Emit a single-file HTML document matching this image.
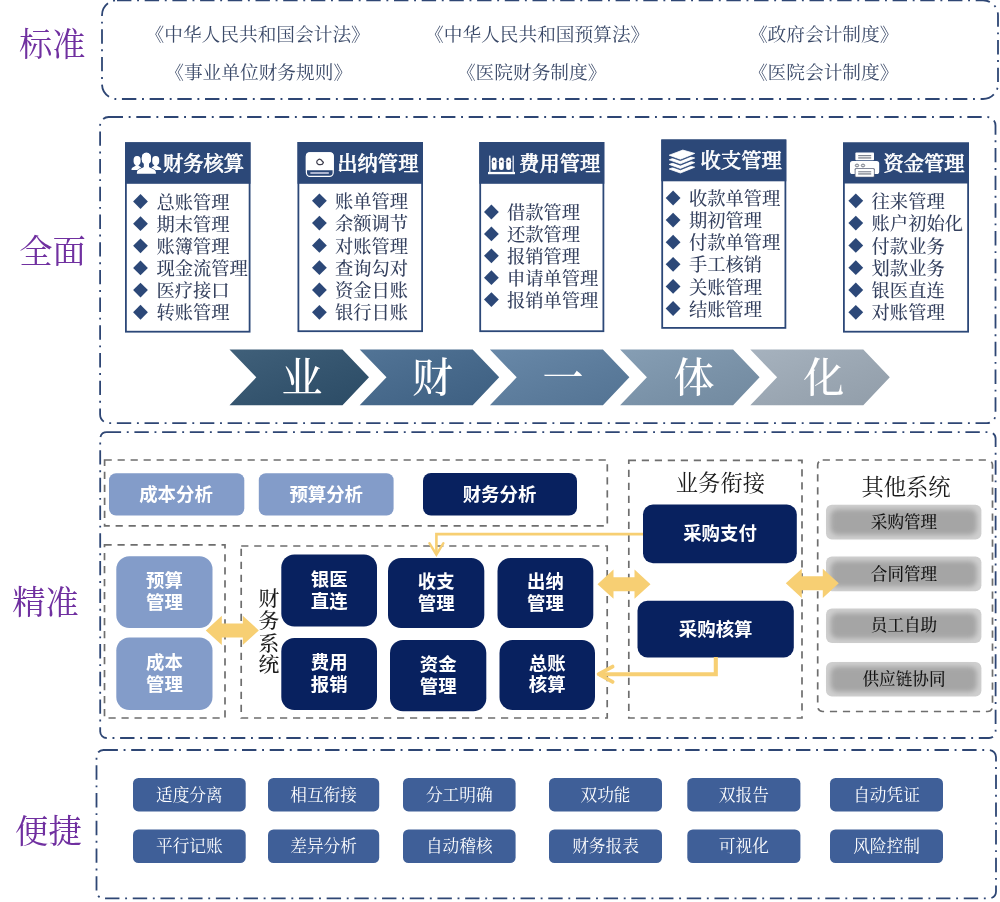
<!DOCTYPE html>
<html lang="zh-CN"><head><meta charset="utf-8"><title>业财一体化</title>
<style>html,body{margin:0;padding:0;background:#fff}body{width:1000px;height:902px;overflow:hidden;position:relative}svg{display:block;position:absolute;left:0;top:0}text{white-space:pre}</style>
</head><body>
<svg width="1000" height="902" viewBox="0 0 1000 902">
<g opacity="0.999">
<defs><filter id="soft" x="-10%" y="-20%" width="120%" height="140%"><feGaussianBlur stdDeviation="2.8"/></filter></defs>
<rect x="102" y="0.3" width="896" height="98.7" rx="15" ry="15" fill="none" stroke="#2e4674" stroke-width="1.8" stroke-dasharray="14.4 5.7 1.9 5.7" stroke-dashoffset="0"/>
<rect x="100.1" y="117" width="895.4" height="306.1" rx="8.5" ry="8.5" fill="none" stroke="#2e4674" stroke-width="1.8" stroke-dasharray="14.4 5.7 1.9 5.7" stroke-dashoffset="0"/>
<rect x="100.2" y="432.1" width="895.4" height="305.9" rx="6.5" ry="6.5" fill="none" stroke="#2e4674" stroke-width="1.8" stroke-dasharray="14.4 5.7 1.9 5.7" stroke-dashoffset="0"/>
<rect x="96.5" y="750" width="899.5" height="148.39999999999998" rx="7" ry="7" fill="none" stroke="#2e4674" stroke-width="1.8" stroke-dasharray="14.4 5.7 1.9 5.7" stroke-dashoffset="0"/>
<text x="52.30" y="56.32" font-size="33.3" fill="#7030a0" font-family='"Liberation Serif","Noto Serif CJK SC",serif' font-weight="400" text-anchor="middle">标准</text>
<text x="52.60" y="262.82" font-size="33.3" fill="#7030a0" font-family='"Liberation Serif","Noto Serif CJK SC",serif' font-weight="400" text-anchor="middle">全面</text>
<text x="45.50" y="613.52" font-size="33.3" fill="#7030a0" font-family='"Liberation Serif","Noto Serif CJK SC",serif' font-weight="400" text-anchor="middle">精准</text>
<text x="48.40" y="842.82" font-size="33.3" fill="#7030a0" font-family='"Liberation Serif","Noto Serif CJK SC",serif' font-weight="400" text-anchor="middle">便捷</text>
<text x="257.70" y="40.64" font-size="18.7" fill="#3a4968" font-family='"Liberation Serif","Noto Serif CJK SC",serif' font-weight="400" text-anchor="middle">《中华人民共和国会计法》</text>
<text x="258.70" y="79.14" font-size="18.7" fill="#3a4968" font-family='"Liberation Serif","Noto Serif CJK SC",serif' font-weight="400" text-anchor="middle">《事业单位财务规则》</text>
<text x="537.20" y="40.64" font-size="18.7" fill="#3a4968" font-family='"Liberation Serif","Noto Serif CJK SC",serif' font-weight="400" text-anchor="middle">《中华人民共和国预算法》</text>
<text x="531.70" y="79.14" font-size="18.7" fill="#3a4968" font-family='"Liberation Serif","Noto Serif CJK SC",serif' font-weight="400" text-anchor="middle">《医院财务制度》</text>
<text x="823.70" y="40.64" font-size="18.7" fill="#3a4968" font-family='"Liberation Serif","Noto Serif CJK SC",serif' font-weight="400" text-anchor="middle">《政府会计制度》</text>
<text x="823.70" y="79.14" font-size="18.7" fill="#3a4968" font-family='"Liberation Serif","Noto Serif CJK SC",serif' font-weight="400" text-anchor="middle">《医院会计制度》</text>
<rect x="125.9" y="143.20000000000002" width="123.7" height="188.5" fill="#fff" stroke="#2c4878" stroke-width="1.8"/>
<rect x="125" y="142.3" width="125.5" height="41.5" fill="#2c4878"/>
<text x="162.90" y="170.81" font-size="20.3" fill="#fff" font-family='"Liberation Serif","Noto Serif CJK SC",serif' font-weight="500" text-anchor="start" stroke="#fff" stroke-width="0.6" stroke-linejoin="round">财务核算</text>
<path d="M133.1,201.5 L140.5,194.1 L147.9,201.5 L140.5,208.9Z" fill="#2c4878"/>
<text x="156.40" y="208.60" font-size="18.3" fill="#34405e" font-family='"Liberation Serif","Noto Serif CJK SC",serif' font-weight="500" text-anchor="start">总账管理</text>
<path d="M133.1,223.65 L140.5,216.25 L147.9,223.65 L140.5,231.05Z" fill="#2c4878"/>
<text x="156.40" y="230.75" font-size="18.3" fill="#34405e" font-family='"Liberation Serif","Noto Serif CJK SC",serif' font-weight="500" text-anchor="start">期末管理</text>
<path d="M133.1,245.8 L140.5,238.4 L147.9,245.8 L140.5,253.20000000000002Z" fill="#2c4878"/>
<text x="156.40" y="252.90" font-size="18.3" fill="#34405e" font-family='"Liberation Serif","Noto Serif CJK SC",serif' font-weight="500" text-anchor="start">账簿管理</text>
<path d="M133.1,267.95 L140.5,260.55 L147.9,267.95 L140.5,275.34999999999997Z" fill="#2c4878"/>
<text x="156.40" y="275.05" font-size="18.3" fill="#34405e" font-family='"Liberation Serif","Noto Serif CJK SC",serif' font-weight="500" text-anchor="start">现金流管理</text>
<path d="M133.1,290.1 L140.5,282.70000000000005 L147.9,290.1 L140.5,297.5Z" fill="#2c4878"/>
<text x="156.40" y="297.20" font-size="18.3" fill="#34405e" font-family='"Liberation Serif","Noto Serif CJK SC",serif' font-weight="500" text-anchor="start">医疗接口</text>
<path d="M133.1,312.25 L140.5,304.85 L147.9,312.25 L140.5,319.65Z" fill="#2c4878"/>
<text x="156.40" y="319.35" font-size="18.3" fill="#34405e" font-family='"Liberation Serif","Noto Serif CJK SC",serif' font-weight="500" text-anchor="start">转账管理</text>
<rect x="298.4" y="142.9" width="123.7" height="188.3" fill="#fff" stroke="#2c4878" stroke-width="1.8"/>
<rect x="297.5" y="142" width="125.5" height="41.80000000000001" fill="#2c4878"/>
<text x="337.30" y="171.01" font-size="20.3" fill="#fff" font-family='"Liberation Serif","Noto Serif CJK SC",serif' font-weight="500" text-anchor="start" stroke="#fff" stroke-width="0.6" stroke-linejoin="round">出纳管理</text>
<path d="M312.0,200.8 L319.4,193.4 L326.79999999999995,200.8 L319.4,208.20000000000002Z" fill="#2c4878"/>
<text x="334.90" y="207.90" font-size="18.3" fill="#34405e" font-family='"Liberation Serif","Noto Serif CJK SC",serif' font-weight="500" text-anchor="start">账单管理</text>
<path d="M312.0,223.10000000000002 L319.4,215.70000000000002 L326.79999999999995,223.10000000000002 L319.4,230.50000000000003Z" fill="#2c4878"/>
<text x="334.90" y="230.20" font-size="18.3" fill="#34405e" font-family='"Liberation Serif","Noto Serif CJK SC",serif' font-weight="500" text-anchor="start">余额调节</text>
<path d="M312.0,245.4 L319.4,238.0 L326.79999999999995,245.4 L319.4,252.8Z" fill="#2c4878"/>
<text x="334.90" y="252.50" font-size="18.3" fill="#34405e" font-family='"Liberation Serif","Noto Serif CJK SC",serif' font-weight="500" text-anchor="start">对账管理</text>
<path d="M312.0,267.70000000000005 L319.4,260.30000000000007 L326.79999999999995,267.70000000000005 L319.4,275.1Z" fill="#2c4878"/>
<text x="334.90" y="274.80" font-size="18.3" fill="#34405e" font-family='"Liberation Serif","Noto Serif CJK SC",serif' font-weight="500" text-anchor="start">查询勾对</text>
<path d="M312.0,290.0 L319.4,282.6 L326.79999999999995,290.0 L319.4,297.4Z" fill="#2c4878"/>
<text x="334.90" y="297.10" font-size="18.3" fill="#34405e" font-family='"Liberation Serif","Noto Serif CJK SC",serif' font-weight="500" text-anchor="start">资金日账</text>
<path d="M312.0,312.3 L319.4,304.90000000000003 L326.79999999999995,312.3 L319.4,319.7Z" fill="#2c4878"/>
<text x="334.90" y="319.40" font-size="18.3" fill="#34405e" font-family='"Liberation Serif","Noto Serif CJK SC",serif' font-weight="500" text-anchor="start">银行日账</text>
<rect x="480.2" y="142.9" width="123.19999999999995" height="188.3" fill="#fff" stroke="#2c4878" stroke-width="1.8"/>
<rect x="479.3" y="142" width="124.99999999999994" height="41.80000000000001" fill="#2c4878"/>
<text x="519.10" y="171.01" font-size="20.3" fill="#fff" font-family='"Liberation Serif","Noto Serif CJK SC",serif' font-weight="500" text-anchor="start" stroke="#fff" stroke-width="0.6" stroke-linejoin="round">费用管理</text>
<path d="M484.0,212.0 L491.4,204.6 L498.79999999999995,212.0 L491.4,219.4Z" fill="#2c4878"/>
<text x="506.90" y="219.10" font-size="18.3" fill="#34405e" font-family='"Liberation Serif","Noto Serif CJK SC",serif' font-weight="500" text-anchor="start">借款管理</text>
<path d="M484.0,233.9 L491.4,226.5 L498.79999999999995,233.9 L491.4,241.3Z" fill="#2c4878"/>
<text x="506.90" y="241.00" font-size="18.3" fill="#34405e" font-family='"Liberation Serif","Noto Serif CJK SC",serif' font-weight="500" text-anchor="start">还款管理</text>
<path d="M484.0,255.8 L491.4,248.4 L498.79999999999995,255.8 L491.4,263.2Z" fill="#2c4878"/>
<text x="506.90" y="262.90" font-size="18.3" fill="#34405e" font-family='"Liberation Serif","Noto Serif CJK SC",serif' font-weight="500" text-anchor="start">报销管理</text>
<path d="M484.0,277.7 L491.4,270.3 L498.79999999999995,277.7 L491.4,285.09999999999997Z" fill="#2c4878"/>
<text x="506.90" y="284.80" font-size="18.3" fill="#34405e" font-family='"Liberation Serif","Noto Serif CJK SC",serif' font-weight="500" text-anchor="start">申请单管理</text>
<path d="M484.0,299.6 L491.4,292.20000000000005 L498.79999999999995,299.6 L491.4,307.0Z" fill="#2c4878"/>
<text x="506.90" y="306.70" font-size="18.3" fill="#34405e" font-family='"Liberation Serif","Noto Serif CJK SC",serif' font-weight="500" text-anchor="start">报销单管理</text>
<rect x="662.1999999999999" y="140.4" width="123.2" height="187.5" fill="#fff" stroke="#2c4878" stroke-width="1.8"/>
<rect x="661.3" y="139.5" width="125.0" height="41.80000000000001" fill="#2c4878"/>
<text x="700.60" y="167.91" font-size="20.3" fill="#fff" font-family='"Liberation Serif","Noto Serif CJK SC",serif' font-weight="500" text-anchor="start" stroke="#fff" stroke-width="0.6" stroke-linejoin="round">收支管理</text>
<path d="M665.7,198.0 L673.1,190.6 L680.5,198.0 L673.1,205.4Z" fill="#2c4878"/>
<text x="688.90" y="205.10" font-size="18.3" fill="#34405e" font-family='"Liberation Serif","Noto Serif CJK SC",serif' font-weight="500" text-anchor="start">收款单管理</text>
<path d="M665.7,220.1 L673.1,212.7 L680.5,220.1 L673.1,227.5Z" fill="#2c4878"/>
<text x="688.90" y="227.20" font-size="18.3" fill="#34405e" font-family='"Liberation Serif","Noto Serif CJK SC",serif' font-weight="500" text-anchor="start">期初管理</text>
<path d="M665.7,242.2 L673.1,234.79999999999998 L680.5,242.2 L673.1,249.6Z" fill="#2c4878"/>
<text x="688.90" y="249.30" font-size="18.3" fill="#34405e" font-family='"Liberation Serif","Noto Serif CJK SC",serif' font-weight="500" text-anchor="start">付款单管理</text>
<path d="M665.7,264.3 L673.1,256.90000000000003 L680.5,264.3 L673.1,271.7Z" fill="#2c4878"/>
<text x="688.90" y="271.40" font-size="18.3" fill="#34405e" font-family='"Liberation Serif","Noto Serif CJK SC",serif' font-weight="500" text-anchor="start">手工核销</text>
<path d="M665.7,286.4 L673.1,279.0 L680.5,286.4 L673.1,293.79999999999995Z" fill="#2c4878"/>
<text x="688.90" y="293.50" font-size="18.3" fill="#34405e" font-family='"Liberation Serif","Noto Serif CJK SC",serif' font-weight="500" text-anchor="start">关账管理</text>
<path d="M665.7,308.5 L673.1,301.1 L680.5,308.5 L673.1,315.9Z" fill="#2c4878"/>
<text x="688.90" y="315.60" font-size="18.3" fill="#34405e" font-family='"Liberation Serif","Noto Serif CJK SC",serif' font-weight="500" text-anchor="start">结账管理</text>
<rect x="843.9" y="143.4" width="124.2" height="188.3" fill="#fff" stroke="#2c4878" stroke-width="1.8"/>
<rect x="843" y="142.5" width="126" height="41.0" fill="#2c4878"/>
<text x="883.40" y="170.81" font-size="20.3" fill="#fff" font-family='"Liberation Serif","Noto Serif CJK SC",serif' font-weight="500" text-anchor="start" stroke="#fff" stroke-width="0.6" stroke-linejoin="round">资金管理</text>
<path d="M848.4,200.8 L855.8,193.4 L863.1999999999999,200.8 L855.8,208.20000000000002Z" fill="#2c4878"/>
<text x="871.60" y="207.90" font-size="18.3" fill="#34405e" font-family='"Liberation Serif","Noto Serif CJK SC",serif' font-weight="500" text-anchor="start">往来管理</text>
<path d="M848.4,223.10000000000002 L855.8,215.70000000000002 L863.1999999999999,223.10000000000002 L855.8,230.50000000000003Z" fill="#2c4878"/>
<text x="871.60" y="230.20" font-size="18.3" fill="#34405e" font-family='"Liberation Serif","Noto Serif CJK SC",serif' font-weight="500" text-anchor="start">账户初始化</text>
<path d="M848.4,245.4 L855.8,238.0 L863.1999999999999,245.4 L855.8,252.8Z" fill="#2c4878"/>
<text x="871.60" y="252.50" font-size="18.3" fill="#34405e" font-family='"Liberation Serif","Noto Serif CJK SC",serif' font-weight="500" text-anchor="start">付款业务</text>
<path d="M848.4,267.70000000000005 L855.8,260.30000000000007 L863.1999999999999,267.70000000000005 L855.8,275.1Z" fill="#2c4878"/>
<text x="871.60" y="274.80" font-size="18.3" fill="#34405e" font-family='"Liberation Serif","Noto Serif CJK SC",serif' font-weight="500" text-anchor="start">划款业务</text>
<path d="M848.4,290.0 L855.8,282.6 L863.1999999999999,290.0 L855.8,297.4Z" fill="#2c4878"/>
<text x="871.60" y="297.10" font-size="18.3" fill="#34405e" font-family='"Liberation Serif","Noto Serif CJK SC",serif' font-weight="500" text-anchor="start">银医直连</text>
<path d="M848.4,312.3 L855.8,304.90000000000003 L863.1999999999999,312.3 L855.8,319.7Z" fill="#2c4878"/>
<text x="871.60" y="319.40" font-size="18.3" fill="#34405e" font-family='"Liberation Serif","Noto Serif CJK SC",serif' font-weight="500" text-anchor="start">对账管理</text>
<g id="icons" fill="#fff">
<g transform="translate(131.5,152.3)"><rect x="2.1" y="3.6" width="7" height="9.2" rx="3.3" ry="3.9"/><rect x="4.1" y="10.5" width="3" height="4.2"/><path d="M-0.1,17.8 C-0.1,15.2 1.6,14.9 4.1,13.5 L7.1,13.5 C9,14.6 10.4,15 10.6,17.8Z"/><rect x="20.7" y="3.6" width="7" height="9.2" rx="3.3" ry="3.9"/><rect x="22.7" y="10.5" width="3" height="4.2"/><path d="M29.9,17.8 C29.9,15.2 28.2,14.9 25.7,13.5 L22.7,13.5 C20.8,14.6 19.4,15 19.2,17.8Z"/><g stroke="#2c4878" stroke-width="1.1" paint-order="stroke"><rect x="10.3" y="0.4" width="9.2" height="11.8" rx="4.4" ry="5"/><path d="M5.4,21.4 L5.4,19.9 C5.7,17 9,16.6 12.4,14.7 L12.4,10 L17.4,10 L17.4,14.7 C20.8,16.6 24.1,17 24.4,19.9 L24.4,21.4Z"/></g><rect x="10.3" y="0.4" width="9.2" height="11.8" rx="4.4" ry="5"/><rect x="12.4" y="9" width="5" height="7"/></g>
<g transform="translate(305.8,152.2)"><rect x="0.6" y="0.6" width="26.8" height="23.6" rx="3.6" fill="#2c4878" stroke="#fff" stroke-width="1.2"/><path d="M0,3.8 A3.8,3.8 0 0 1 3.8,0 H24.2 A3.8,3.8 0 0 1 28,3.8 V18.1 H0Z"/><rect x="4.4" y="19.7" width="18.8" height="2.1" rx="0.8" fill="#aeb6d0"/><path d="M12.2,12 C10.6,11 10.4,8.6 12.4,7.6 C13.6,6.6 15.2,7 15.8,8.2 C16.4,9 17.2,9.4 17.6,10.4 C17.2,11.8 15.8,12.6 14.4,12.5 C13.6,12.5 12.8,12.4 12.2,12 Z" fill="none" stroke="#3c3c4c" stroke-width="1.25"/></g>
<g transform="translate(488,156)"><rect x="0" y="15.9" width="27" height="2.3"/><rect x="1" y="-0.4" width="1.5" height="16.6" fill="#ccd4e4"/><rect x="24.5" y="-0.4" width="1.5" height="16.6" fill="#ccd4e4"/><rect x="2.5" y="5.3" width="22" height="0.7" fill="#aab4cc"/><rect x="3.8" y="1.6" width="4.8" height="12.4" rx="2.2"/><circle cx="6.199999999999999" cy="5.6" r="1" fill="#2b2b4a"/><rect x="11" y="1.6" width="4.8" height="12.4" rx="2.2"/><circle cx="13.4" cy="5.6" r="1" fill="#2b2b4a"/><rect x="18.2" y="1.6" width="4.8" height="12.4" rx="2.2"/><circle cx="20.599999999999998" cy="5.6" r="1" fill="#2b2b4a"/></g>
<g transform="translate(668.8,149.8)"><path d="M0.4,5.4 L14,0.3 L25.9,3.6 L11.6,9.4Z" transform="translate(0,13.8)" fill="#fff" stroke="#fff" stroke-width="0.8" stroke-linejoin="round"/><path d="M0.4,5.4 L14,0.3 L25.9,3.6 L11.6,9.4Z" transform="translate(0,10.6)" fill="#2c4878" stroke="#2c4878" stroke-width="0.8" stroke-linejoin="round"/><path d="M0.4,5.4 L14,0.3 L25.9,3.6 L11.6,9.4Z" transform="translate(0,9.2)" fill="#fff" stroke="#fff" stroke-width="0.8" stroke-linejoin="round"/><path d="M0.4,5.4 L14,0.3 L25.9,3.6 L11.6,9.4Z" transform="translate(0,6.0)" fill="#2c4878" stroke="#2c4878" stroke-width="0.8" stroke-linejoin="round"/><path d="M0.4,5.4 L14,0.3 L25.9,3.6 L11.6,9.4Z" transform="translate(0,4.6)" fill="#fff" stroke="#fff" stroke-width="0.8" stroke-linejoin="round"/><path d="M0.4,5.4 L14,0.3 L25.9,3.6 L11.6,9.4Z" transform="translate(0,1.4)" fill="#2c4878" stroke="#2c4878" stroke-width="0.8" stroke-linejoin="round"/><path d="M0.4,5.4 L14,0.3 L25.9,3.6 L11.6,9.4Z" transform="translate(0,0.0)" fill="#fff" stroke="#fff" stroke-width="0.8" stroke-linejoin="round"/></g>
<g transform="translate(850,152.6)"><rect x="5.4" y="0" width="18.6" height="7.6" rx="0.8"/><rect x="8.2" y="2.5" width="13" height="0.9" fill="#6f7684"/><rect x="8.2" y="4.1" width="13" height="2.1" fill="#a2a6ad"/><rect x="0" y="8.3" width="29.2" height="13.1" rx="2.6"/><ellipse cx="7" cy="12.9" rx="1.7" ry="1.4" fill="#e8eaee" stroke="#6a6f7a" stroke-width="0.9"/><ellipse cx="13" cy="12.9" rx="1.7" ry="1.4" fill="#e8eaee" stroke="#6a6f7a" stroke-width="0.9"/><rect x="4.7" y="15.6" width="20" height="9" rx="1" fill="#59627a"/><rect x="5.5" y="16.5" width="18.4" height="7.7" rx="0.8"/><rect x="8.2" y="18.7" width="13" height="0.9" fill="#6f7684"/><rect x="8.2" y="20.2" width="13" height="2" fill="#a2a6ad"/></g>
</g>
<defs><linearGradient id="cg0" x1="0" y1="0" x2="1" y2="1"><stop offset="0" stop-color="#40607a"/><stop offset="0.55" stop-color="#34546e"/><stop offset="1" stop-color="#2b4b65"/></linearGradient><linearGradient id="cg1" x1="0" y1="0" x2="1" y2="1"><stop offset="0" stop-color="#527496"/><stop offset="0.55" stop-color="#46688a"/><stop offset="1" stop-color="#3d5f81"/></linearGradient><linearGradient id="cg2" x1="0" y1="0" x2="1" y2="1"><stop offset="0" stop-color="#6888a8"/><stop offset="0.55" stop-color="#5c7c9c"/><stop offset="1" stop-color="#537393"/></linearGradient><linearGradient id="cg3" x1="0" y1="0" x2="1" y2="1"><stop offset="0" stop-color="#869eb4"/><stop offset="0.55" stop-color="#7a92a8"/><stop offset="1" stop-color="#71899f"/></linearGradient><linearGradient id="cg4" x1="0" y1="0" x2="1" y2="1"><stop offset="0" stop-color="#a6b2be"/><stop offset="0.55" stop-color="#9aa6b2"/><stop offset="1" stop-color="#919da9"/></linearGradient></defs>
<path d="M229.5,349.5 H342.5 L369.0,377.35 L342.5,405.2 H229.5 L256.3,377.35Z" fill="url(#cg0)"/>
<text x="302.00" y="392.16" font-size="41" fill="#fff" font-family='"Liberation Serif","Noto Serif CJK SC",serif' font-weight="500" text-anchor="middle">业</text>
<path d="M359.7,349.5 H472.7 L499.2,377.35 L472.7,405.2 H359.7 L386.5,377.35Z" fill="url(#cg1)"/>
<text x="432.50" y="392.16" font-size="41" fill="#fff" font-family='"Liberation Serif","Noto Serif CJK SC",serif' font-weight="500" text-anchor="middle">财</text>
<path d="M489.9,349.5 H602.9 L629.4,377.35 L602.9,405.2 H489.9 L516.6999999999999,377.35Z" fill="url(#cg2)"/>
<text x="563.00" y="392.16" font-size="41" fill="#fff" font-family='"Liberation Serif","Noto Serif CJK SC",serif' font-weight="500" text-anchor="middle">一</text>
<path d="M620.0999999999999,349.5 H733.0999999999999 L759.5999999999999,377.35 L733.0999999999999,405.2 H620.0999999999999 L646.8999999999999,377.35Z" fill="url(#cg3)"/>
<text x="694.00" y="392.16" font-size="41" fill="#fff" font-family='"Liberation Serif","Noto Serif CJK SC",serif' font-weight="500" text-anchor="middle">体</text>
<path d="M750.3,349.5 H863.3 L889.8,377.35 L863.3,405.2 H750.3 L777.0999999999999,377.35Z" fill="url(#cg4)"/>
<text x="823.80" y="392.16" font-size="41" fill="#fff" font-family='"Liberation Serif","Noto Serif CJK SC",serif' font-weight="500" text-anchor="middle">化</text>
<rect x="104.6" y="460" width="502.69999999999993" height="65.79999999999995" rx="0" ry="0" fill="none" stroke="#6e6e6e" stroke-width="1.7" stroke-dasharray="7.2 5.8"/>
<rect x="104.5" y="544.8" width="120.5" height="173.20000000000005" rx="0" ry="0" fill="none" stroke="#6e6e6e" stroke-width="1.7" stroke-dasharray="7.2 5.8"/>
<rect x="241.2" y="546" width="366.00000000000006" height="172" rx="0" ry="0" fill="none" stroke="#6e6e6e" stroke-width="1.7" stroke-dasharray="7.2 5.8"/>
<rect x="628.8" y="460.4" width="173.20000000000005" height="257.6" rx="0" ry="0" fill="none" stroke="#6e6e6e" stroke-width="1.7" stroke-dasharray="7.2 5.8"/>
<rect x="817.7" y="460" width="174.79999999999995" height="251.5" rx="5" ry="5" fill="none" stroke="#6e6e6e" stroke-width="1.7" stroke-dasharray="7.2 5.8"/>
<rect x="109" y="473.2" width="135.3" height="42.30000000000001" rx="7" ry="7" fill="#839cc9"/>
<text x="176.00" y="501.03" font-size="18.4" fill="#fff" font-family='"Liberation Sans","Noto Sans CJK SC",sans-serif' font-weight="700" text-anchor="middle">成本分析</text>
<rect x="258.8" y="473.2" width="134.8" height="42.30000000000001" rx="7" ry="7" fill="#839cc9"/>
<text x="326.20" y="501.03" font-size="18.4" fill="#fff" font-family='"Liberation Sans","Noto Sans CJK SC",sans-serif' font-weight="700" text-anchor="middle">预算分析</text>
<rect x="423" y="473" width="154" height="42.60000000000002" rx="8" ry="8" fill="#08215f"/>
<text x="499.50" y="501.03" font-size="18.4" fill="#fff" font-family='"Liberation Sans","Noto Sans CJK SC",sans-serif' font-weight="700" text-anchor="middle">财务分析</text>
<rect x="116.3" y="556.3" width="96.2" height="71.70000000000005" rx="13" ry="13" fill="#839cc9"/>
<text x="164.40" y="587.03" font-size="18.4" fill="#fff" font-family='"Liberation Sans","Noto Sans CJK SC",sans-serif' font-weight="700" text-anchor="middle">预算</text>
<text x="164.40" y="609.03" font-size="18.4" fill="#fff" font-family='"Liberation Sans","Noto Sans CJK SC",sans-serif' font-weight="700" text-anchor="middle">管理</text>
<rect x="116.3" y="637.5" width="96.2" height="72.5" rx="13" ry="13" fill="#839cc9"/>
<text x="164.40" y="669.03" font-size="18.4" fill="#fff" font-family='"Liberation Sans","Noto Sans CJK SC",sans-serif' font-weight="700" text-anchor="middle">成本</text>
<text x="164.40" y="691.03" font-size="18.4" fill="#fff" font-family='"Liberation Sans","Noto Sans CJK SC",sans-serif' font-weight="700" text-anchor="middle">管理</text>
<rect x="281.3" y="554.5" width="95.69999999999999" height="72.10000000000002" rx="13" ry="13" fill="#08215f"/>
<text x="329.15" y="586.03" font-size="18.4" fill="#fff" font-family='"Liberation Sans","Noto Sans CJK SC",sans-serif' font-weight="700" text-anchor="middle">银医</text>
<text x="329.15" y="607.83" font-size="18.4" fill="#fff" font-family='"Liberation Sans","Noto Sans CJK SC",sans-serif' font-weight="700" text-anchor="middle">直连</text>
<rect x="388" y="558" width="96.30000000000001" height="70" rx="13" ry="13" fill="#08215f"/>
<text x="436.15" y="587.83" font-size="18.4" fill="#fff" font-family='"Liberation Sans","Noto Sans CJK SC",sans-serif' font-weight="700" text-anchor="middle">收支</text>
<text x="436.15" y="610.23" font-size="18.4" fill="#fff" font-family='"Liberation Sans","Noto Sans CJK SC",sans-serif' font-weight="700" text-anchor="middle">管理</text>
<rect x="497.5" y="558" width="95.79999999999995" height="70" rx="13" ry="13" fill="#08215f"/>
<text x="545.40" y="587.83" font-size="18.4" fill="#fff" font-family='"Liberation Sans","Noto Sans CJK SC",sans-serif' font-weight="700" text-anchor="middle">出纳</text>
<text x="545.40" y="610.23" font-size="18.4" fill="#fff" font-family='"Liberation Sans","Noto Sans CJK SC",sans-serif' font-weight="700" text-anchor="middle">管理</text>
<rect x="281.3" y="638" width="95.69999999999999" height="72" rx="13" ry="13" fill="#08215f"/>
<text x="329.15" y="669.03" font-size="18.4" fill="#fff" font-family='"Liberation Sans","Noto Sans CJK SC",sans-serif' font-weight="700" text-anchor="middle">费用</text>
<text x="329.15" y="690.83" font-size="18.4" fill="#fff" font-family='"Liberation Sans","Noto Sans CJK SC",sans-serif' font-weight="700" text-anchor="middle">报销</text>
<rect x="390" y="640" width="96.30000000000001" height="71.29999999999995" rx="13" ry="13" fill="#08215f"/>
<text x="438.15" y="670.83" font-size="18.4" fill="#fff" font-family='"Liberation Sans","Noto Sans CJK SC",sans-serif' font-weight="700" text-anchor="middle">资金</text>
<text x="438.15" y="692.83" font-size="18.4" fill="#fff" font-family='"Liberation Sans","Noto Sans CJK SC",sans-serif' font-weight="700" text-anchor="middle">管理</text>
<rect x="499.5" y="640" width="95.5" height="70" rx="13" ry="13" fill="#08215f"/>
<text x="547.25" y="670.23" font-size="18.4" fill="#fff" font-family='"Liberation Sans","Noto Sans CJK SC",sans-serif' font-weight="700" text-anchor="middle">总账</text>
<text x="547.25" y="691.03" font-size="18.4" fill="#fff" font-family='"Liberation Sans","Noto Sans CJK SC",sans-serif' font-weight="700" text-anchor="middle">核算</text>
<rect x="643" y="504.5" width="153.79999999999995" height="58.799999999999955" rx="10" ry="10" fill="#08215f"/>
<text x="720.00" y="540.33" font-size="18.4" fill="#fff" font-family='"Liberation Sans","Noto Sans CJK SC",sans-serif' font-weight="700" text-anchor="middle">采购支付</text>
<rect x="637.5" y="600.8" width="156.29999999999995" height="56.700000000000045" rx="10" ry="10" fill="#08215f"/>
<text x="715.65" y="636.03" font-size="18.4" fill="#fff" font-family='"Liberation Sans","Noto Sans CJK SC",sans-serif' font-weight="700" text-anchor="middle">采购核算</text>
<text x="720.40" y="490.92" font-size="22.3" fill="#1a1a1a" font-family='"Liberation Serif","Noto Serif CJK SC",serif' font-weight="400" text-anchor="middle">业务衔接</text>
<text x="906.00" y="494.52" font-size="22.3" fill="#1a1a1a" font-family='"Liberation Serif","Noto Serif CJK SC",serif' font-weight="400" text-anchor="middle">其他系统</text>
<text x="268.80" y="605.88" font-size="20.8" fill="#1c1c1c" font-family='"Liberation Serif","Noto Serif CJK SC",serif' font-weight="500" text-anchor="middle">财</text>
<text x="268.80" y="628.38" font-size="20.8" fill="#1c1c1c" font-family='"Liberation Serif","Noto Serif CJK SC",serif' font-weight="500" text-anchor="middle">务</text>
<text x="268.80" y="651.18" font-size="20.8" fill="#1c1c1c" font-family='"Liberation Serif","Noto Serif CJK SC",serif' font-weight="500" text-anchor="middle">系</text>
<text x="268.80" y="671.78" font-size="20.8" fill="#1c1c1c" font-family='"Liberation Serif","Noto Serif CJK SC",serif' font-weight="500" text-anchor="middle">统</text>
<rect x="826" y="504.8" width="155.4" height="34.6" rx="6" fill="#cfcfcf"/>
<rect x="830.5" y="509.3" width="146.4" height="25.6" rx="7" fill="#a5a5a5" filter="url(#soft)"/>
<text x="904.00" y="527.79" font-size="16.6" fill="#111" font-family='"Liberation Serif","Noto Serif CJK SC",serif' font-weight="500" text-anchor="middle">采购管理</text>
<rect x="826" y="556.6" width="155.4" height="34.6" rx="6" fill="#cfcfcf"/>
<rect x="830.5" y="561.1" width="146.4" height="25.6" rx="7" fill="#a5a5a5" filter="url(#soft)"/>
<text x="904.00" y="579.59" font-size="16.6" fill="#111" font-family='"Liberation Serif","Noto Serif CJK SC",serif' font-weight="500" text-anchor="middle">合同管理</text>
<rect x="826" y="608.4" width="155.4" height="34.6" rx="6" fill="#cfcfcf"/>
<rect x="830.5" y="612.9" width="146.4" height="25.6" rx="7" fill="#a5a5a5" filter="url(#soft)"/>
<text x="904.00" y="631.39" font-size="16.6" fill="#111" font-family='"Liberation Serif","Noto Serif CJK SC",serif' font-weight="500" text-anchor="middle">员工自助</text>
<rect x="826" y="662" width="155.4" height="34.6" rx="6" fill="#cfcfcf"/>
<rect x="830.5" y="666.5" width="146.4" height="25.6" rx="7" fill="#a5a5a5" filter="url(#soft)"/>
<text x="904.00" y="684.99" font-size="16.6" fill="#111" font-family='"Liberation Serif","Noto Serif CJK SC",serif' font-weight="500" text-anchor="middle">供应链协同</text>
<path d="M205.8,630.4 L221.8,615.8 V623.4 H242.8 V615.8 L258.8,630.4 L242.8,645.0 V637.4 H221.8 V645.0Z" fill="#f7cf73"/>
<path d="M597.5,584.2 L613.5,569.6 V577.2 H634.5 V569.6 L650.5,584.2 L634.5,598.8000000000001 V591.2 H613.5 V598.8000000000001Z" fill="#f7cf73"/>
<path d="M785.8,583.3 L801.8,568.6999999999999 V576.3 H822.8 V568.6999999999999 L838.8,583.3 L822.8,597.9 V590.3 H801.8 V597.9Z" fill="#f7cf73"/>
<path d="M643,534.1 H436.4 V554" fill="none" stroke="#f7cf73" stroke-width="2.6"/>
<path d="M429.4,543.2 L436.4,554.6 L443.4,543.2" fill="none" stroke="#f7cf73" stroke-width="2.4" stroke-linecap="round" stroke-linejoin="miter"/>
<path d="M715.8,657 V674.2 H599" fill="none" stroke="#f7cf73" stroke-width="4.1" stroke-linejoin="miter"/>
<path d="M612.6,666.6 L598.6,674.2 L612.6,681.9" fill="none" stroke="#f7cf73" stroke-width="3.8" stroke-linecap="round" stroke-linejoin="round"/>
<rect x="133" y="778" width="112.69999999999999" height="33.39999999999998" rx="5.5" ry="5.5" fill="#3f5f98"/>
<text x="189.35" y="800.63" font-size="16.7" fill="#fff" font-family='"Liberation Serif","Noto Serif CJK SC",serif' font-weight="400" text-anchor="middle">适度分离</text>
<rect x="133" y="829.4" width="112.69999999999999" height="33.60000000000002" rx="5.5" ry="5.5" fill="#3f5f98"/>
<text x="189.35" y="851.93" font-size="16.7" fill="#fff" font-family='"Liberation Serif","Noto Serif CJK SC",serif' font-weight="400" text-anchor="middle">平行记账</text>
<rect x="268" y="778" width="111.19999999999999" height="33.39999999999998" rx="5.5" ry="5.5" fill="#3f5f98"/>
<text x="323.60" y="800.63" font-size="16.7" fill="#fff" font-family='"Liberation Serif","Noto Serif CJK SC",serif' font-weight="400" text-anchor="middle">相互衔接</text>
<rect x="268" y="829.4" width="111.19999999999999" height="33.60000000000002" rx="5.5" ry="5.5" fill="#3f5f98"/>
<text x="323.60" y="851.93" font-size="16.7" fill="#fff" font-family='"Liberation Serif","Noto Serif CJK SC",serif' font-weight="400" text-anchor="middle">差异分析</text>
<rect x="403" y="778" width="112.60000000000002" height="33.39999999999998" rx="5.5" ry="5.5" fill="#3f5f98"/>
<text x="459.30" y="800.63" font-size="16.7" fill="#fff" font-family='"Liberation Serif","Noto Serif CJK SC",serif' font-weight="400" text-anchor="middle">分工明确</text>
<rect x="403" y="829.4" width="112.60000000000002" height="33.60000000000002" rx="5.5" ry="5.5" fill="#3f5f98"/>
<text x="459.30" y="851.93" font-size="16.7" fill="#fff" font-family='"Liberation Serif","Noto Serif CJK SC",serif' font-weight="400" text-anchor="middle">自动稽核</text>
<rect x="549" y="778" width="113" height="33.39999999999998" rx="5.5" ry="5.5" fill="#3f5f98"/>
<text x="605.50" y="800.63" font-size="16.7" fill="#fff" font-family='"Liberation Serif","Noto Serif CJK SC",serif' font-weight="400" text-anchor="middle">双功能</text>
<rect x="549" y="829.4" width="113" height="33.60000000000002" rx="5.5" ry="5.5" fill="#3f5f98"/>
<text x="605.50" y="851.93" font-size="16.7" fill="#fff" font-family='"Liberation Serif","Noto Serif CJK SC",serif' font-weight="400" text-anchor="middle">财务报表</text>
<rect x="687.3" y="778" width="113.10000000000002" height="33.39999999999998" rx="5.5" ry="5.5" fill="#3f5f98"/>
<text x="743.85" y="800.63" font-size="16.7" fill="#fff" font-family='"Liberation Serif","Noto Serif CJK SC",serif' font-weight="400" text-anchor="middle">双报告</text>
<rect x="687.3" y="829.4" width="113.10000000000002" height="33.60000000000002" rx="5.5" ry="5.5" fill="#3f5f98"/>
<text x="743.85" y="851.93" font-size="16.7" fill="#fff" font-family='"Liberation Serif","Noto Serif CJK SC",serif' font-weight="400" text-anchor="middle">可视化</text>
<rect x="830" y="778" width="113" height="33.39999999999998" rx="5.5" ry="5.5" fill="#3f5f98"/>
<text x="886.50" y="800.63" font-size="16.7" fill="#fff" font-family='"Liberation Serif","Noto Serif CJK SC",serif' font-weight="400" text-anchor="middle">自动凭证</text>
<rect x="830" y="829.4" width="113" height="33.60000000000002" rx="5.5" ry="5.5" fill="#3f5f98"/>
<text x="886.50" y="851.93" font-size="16.7" fill="#fff" font-family='"Liberation Serif","Noto Serif CJK SC",serif' font-weight="400" text-anchor="middle">风险控制</text>
</g></svg></body></html>
